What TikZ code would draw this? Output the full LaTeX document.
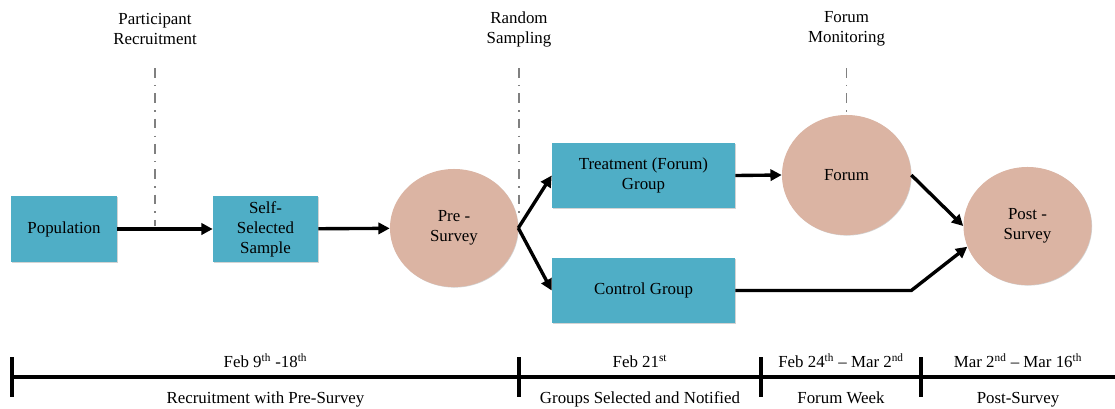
\documentclass[tikz,border=0pt]{standalone}
\usepackage{fontspec}
\setmainfont{Liberation Serif}
\usepackage{tikz}
\usetikzlibrary{arrows.meta,shapes,positioning,shadows}
\usepackage{xcolor}
\definecolor{pmteal}{RGB}{79,174,198}
\definecolor{pmpeach}{RGB}{219,180,163}
\definecolor{pmgray}{RGB}{128,128,128}
\tikzstyle{arrow} = [line width=2.4pt,->,>={Triangle[length=8pt,width=8pt]},color=black]
\tikzstyle{stage} = [rectangle, minimum height=1.65cm, text centered, align=center, fill=pmteal, inner sep=2pt, drop shadow={shadow xshift=0.4pt, shadow yshift=-0.4pt, opacity=0.35}]
\tikzstyle{survey} = [ellipse, minimum width=3.2cm, minimum height=2.95cm, inner sep=0pt, text centered, align=center, fill=pmpeach, drop shadow={shadow xshift=0.4pt, shadow yshift=-0.4pt, opacity=0.35}]
\tikzstyle{note} = [align=center]
\tikzstyle{guide} = [pmgray, line width=1.2pt, dash pattern=on 7pt off 5pt on 1pt off 5pt]
\tikzstyle{timeline} = [line width=2.4pt]
\tikzstyle{phase} = [inner sep=2pt, text height=8.5pt, text depth=2.5pt]

\begin{document}
\begin{tikzpicture}[x=0.025cm, y=-0.025cm, font=\fontsize{12}{14.2}\selectfont]
\useasboundingbox (0,0) rectangle (1115,408);

% Stages
\node (pop) [stage, minimum width=2.65cm] at (64,229) {Population};
\node (sample) [stage, minimum width=2.625cm] at (265.5,229) {Self-\\Selected\\Sample};
\node (pre) [survey] at (454,228) {Pre -\\Survey};
\node (treat) [stage, minimum width=4.575cm, minimum height=1.625cm] at (643.5,175.5) {Treatment (Forum)\\Group};
\node (ctrl) [stage, minimum width=4.575cm, minimum height=1.625cm] at (643.5,290.5) {Control Group};
\node (forum) [survey, minimum width=3.225cm, minimum height=3cm] at (846.5,175) {Forum};
\node (post) [survey] at (1027.5,226) {Post -\\Survey};

% Flows
\draw[arrow] (pop) -- (sample);
\draw[arrow] (sample) -- (pre);
\draw[arrow] (pre.east) -- (treat.west);
\draw[arrow] (pre.east) -- (ctrl.west);
\draw[arrow] (treat.east) -- (forum.west);
\draw[arrow] (forum.east) -- (post.west);
\draw[arrow] (ctrl.east) -- (ctrl.east -| forum.east) -- (post.199);

% Events
\node (recruit) [note] at (155,29) {Participant\\Recruitment};
\node (sampling) [note] at (519,29) {Random\\Sampling};
\node (monitor) [note] at (846.5,29) {Forum\\Monitoring};
\coordinate (recruittop) at (155,68);
\coordinate (recruitend) at (155,226);
\coordinate (samplingtop) at (519,68);
\coordinate (samplingend) at (519,216);
\coordinate (monitortop) at (846.5,68);
\draw[guide] (recruittop) -- (recruitend);
\draw[guide] (samplingtop) -- (samplingend);
\draw[guide] (monitortop) -- (forum.north);

% Timeline
\coordinate (t0) at (12,377);
\coordinate (t1) at (519,377);
\coordinate (t2) at (761,377);
\coordinate (t3) at (921,377);
\coordinate (tend) at (1115,377);
\draw[timeline] (t0) -- (tend);
\foreach \t in {t0,t1,t2,t3}
  \draw[timeline] ([yshift=0.5cm]\t) -- ([yshift=-0.5cm]\t);
\path (t0) -- node[phase, above=2pt] {Feb 9\textsuperscript{th} -18\textsuperscript{th}}
  node[phase, below=8pt] {Recruitment with Pre-Survey} (t1);
\path (t1) -- node[phase, above=2pt] {Feb 21\textsuperscript{st}}
  node[phase, below=8pt] {Groups Selected and Notified} (t2);
\path (t2) -- node[phase, above=2pt] {Feb 24\textsuperscript{th} – Mar 2\textsuperscript{nd}}
  node[phase, below=8pt] {Forum Week} (t3);
\path (t3) -- node[phase, above=2pt] {Mar 2\textsuperscript{nd} – Mar 16\textsuperscript{th}}
  node[phase, below=8pt] {Post-Survey} (tend);
\end{tikzpicture}
\end{document}
